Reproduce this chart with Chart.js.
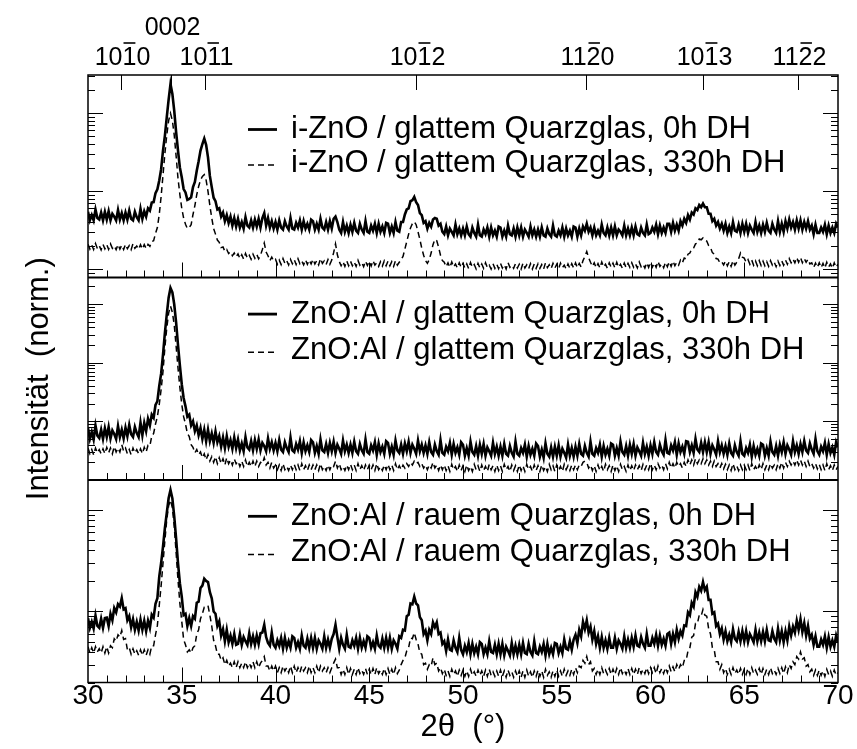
<!DOCTYPE html>
<html>
<head>
<meta charset="utf-8">
<script src="https://cdn.jsdelivr.net/npm/chart.js@4.4.1/dist/chart.umd.min.js"></script>
<style>
  html, body { margin: 0; padding: 0; background: #fff; }
  #wrap { width: 857px; height: 749px; }
</style>
</head>
<body>
<div id="wrap"><canvas id="xrd" width="857" height="749"></canvas></div>
<script>
// 2theta scan grid (deg), one row per degree
const twoTheta = [
  30,30.1,30.2,30.3,30.4,30.5,30.6,30.7,30.8,30.9, 31,31.1,31.2,31.3,31.4,31.5,31.6,31.7,31.8,31.9,
  32,32.1,32.2,32.3,32.4,32.5,32.6,32.7,32.8,32.9, 33,33.1,33.2,33.3,33.4,33.5,33.6,33.7,33.8,33.9,
  34,34.1,34.2,34.3,34.4,34.5,34.6,34.7,34.8,34.9, 35,35.1,35.2,35.3,35.4,35.5,35.6,35.7,35.8,35.9,
  36,36.1,36.2,36.3,36.4,36.5,36.6,36.7,36.8,36.9, 37,37.1,37.2,37.3,37.4,37.5,37.6,37.7,37.8,37.9,
  38,38.1,38.2,38.3,38.4,38.5,38.6,38.7,38.8,38.9, 39,39.1,39.2,39.3,39.4,39.5,39.6,39.7,39.8,39.9,
  40,40.1,40.2,40.3,40.4,40.5,40.6,40.7,40.8,40.9, 41,41.1,41.2,41.3,41.4,41.5,41.6,41.7,41.8,41.9,
  42,42.1,42.2,42.3,42.4,42.5,42.6,42.7,42.8,42.9, 43,43.1,43.2,43.3,43.4,43.5,43.6,43.7,43.8,43.9,
  44,44.1,44.2,44.3,44.4,44.5,44.6,44.7,44.8,44.9, 45,45.1,45.2,45.3,45.4,45.5,45.6,45.7,45.8,45.9,
  46,46.1,46.2,46.3,46.4,46.5,46.6,46.7,46.8,46.9, 47,47.1,47.2,47.3,47.4,47.5,47.6,47.7,47.8,47.9,
  48,48.1,48.2,48.3,48.4,48.5,48.6,48.7,48.8,48.9, 49,49.1,49.2,49.3,49.4,49.5,49.6,49.7,49.8,49.9,
  50,50.1,50.2,50.3,50.4,50.5,50.6,50.7,50.8,50.9, 51,51.1,51.2,51.3,51.4,51.5,51.6,51.7,51.8,51.9,
  52,52.1,52.2,52.3,52.4,52.5,52.6,52.7,52.8,52.9, 53,53.1,53.2,53.3,53.4,53.5,53.6,53.7,53.8,53.9,
  54,54.1,54.2,54.3,54.4,54.5,54.6,54.7,54.8,54.9, 55,55.1,55.2,55.3,55.4,55.5,55.6,55.7,55.8,55.9,
  56,56.1,56.2,56.3,56.4,56.5,56.6,56.7,56.8,56.9, 57,57.1,57.2,57.3,57.4,57.5,57.6,57.7,57.8,57.9,
  58,58.1,58.2,58.3,58.4,58.5,58.6,58.7,58.8,58.9, 59,59.1,59.2,59.3,59.4,59.5,59.6,59.7,59.8,59.9,
  60,60.1,60.2,60.3,60.4,60.5,60.6,60.7,60.8,60.9, 61,61.1,61.2,61.3,61.4,61.5,61.6,61.7,61.8,61.9,
  62,62.1,62.2,62.3,62.4,62.5,62.6,62.7,62.8,62.9, 63,63.1,63.2,63.3,63.4,63.5,63.6,63.7,63.8,63.9,
  64,64.1,64.2,64.3,64.4,64.5,64.6,64.7,64.8,64.9, 65,65.1,65.2,65.3,65.4,65.5,65.6,65.7,65.8,65.9,
  66,66.1,66.2,66.3,66.4,66.5,66.6,66.7,66.8,66.9, 67,67.1,67.2,67.3,67.4,67.5,67.6,67.7,67.8,67.9,
  68,68.1,68.2,68.3,68.4,68.5,68.6,68.7,68.8,68.9, 69,69.1,69.2,69.3,69.4,69.5,69.6,69.7,69.8,69.9,
  70
];

// i-ZnO / glattem Quarzglas
const topFresh = [
  5.4,4.2,4.9,4.2,5.8,4.5,4.3,5.3,4.2,5.4, 4.3,5.5,4.2,5.1,4.7,4.2,5.7,4.3,5.2,4.2,
  5.3,4.3,5.6,4.4,4.2,5.4,4.6,4.2,5.9,4.4, 5.5,4.7,6.0,5.6,7.1,7.2,9.4,10.5,13.6,19,
  33,51,88,148,235,176,106,57,33,20, 15,10.6,9.6,7.7,7.9,8.3,11.2,13.1,18.2,24,
  33,40,47,39,27,15.6,11.2,8.2,7.4,5.8, 6.0,4.7,5.3,4.1,4.9,3.9,4.7,3.6,4.5,3.5,
  4.4,3.4,4.0,3.3,4.6,3.6,3.4,4.2,3.4,4.3, 3.5,4.4,3.4,4.5,5.2,3.6,4.5,3.4,4.1,3.3,
  4.0,3.2,4.2,3.4,3.2,4.1,3.5,3.2,4.5,3.3, 3.2,3.9,3.4,4.2,3.2,4.1,3.3,3.8,3.2,4.3,
  4.1,3.2,3.8,3.2,4.4,3.4,3.2,4.0,3.2,4.1, 3.3,4.4,4.7,4.0,3.2,2.9,4.0,3.0,3.6,2.9,
  3.7,3.0,3.9,3.1,2.9,3.8,3.2,2.9,4.1,3.0, 2.9,3.6,3.1,3.8,2.9,3.8,3.0,3.5,2.9,3.9,
  3.8,2.9,3.5,2.9,4.0,3.1,3.0,4.0,4.0,5.0, 5.8,6.0,7.4,7.6,8.4,7.2,6.6,5.2,4.9,3.9,
  4.1,3.3,3.9,3.5,4.3,4.5,4.4,3.6,3.8,3.0, 2.8,3.5,2.7,3.3,3.0,2.7,3.7,2.8,3.3,2.7,
  3.3,2.7,3.5,2.8,2.6,3.4,2.9,2.6,3.7,2.7, 2.6,3.2,2.8,3.4,2.6,3.4,2.7,3.1,2.6,3.5,
  3.4,2.6,3.1,2.6,3.6,2.8,2.7,3.3,2.6,3.4, 2.7,3.4,2.6,3.2,2.9,2.6,3.5,2.7,3.2,2.6,
  3.2,2.6,3.4,2.7,2.6,3.3,2.8,2.6,3.6,2.7, 2.6,3.1,2.7,3.4,2.6,3.3,2.7,3.1,2.6,3.5,
  3.4,2.6,3.3,2.7,3.5,3.1,3.8,3.0,3.4,2.7, 3.4,2.7,3.1,2.7,3.7,2.9,2.7,3.4,2.7,3.4,
  2.7,3.5,2.7,3.2,3.0,2.7,3.6,2.7,3.3,2.7, 3.4,2.7,3.5,2.8,2.7,3.4,2.9,2.7,3.7,2.8,
  2.9,3.4,3.0,3.7,2.8,3.6,2.9,3.4,2.9,3.8, 3.8,3.0,3.9,3.1,3.7,3.1,4.1,3.6,4.4,3.9,
  4.9,4.3,5.3,5.0,6.0,5.7,6.6,6.2,6.9,6.2, 6.2,5.1,5.1,4.1,4.4,3.6,4.0,3.3,3.8,3.1,
  3.8,2.9,3.5,2.9,4.0,3.1,3.0,3.7,2.9,3.8, 3.0,3.8,2.9,3.6,3.2,2.9,4.0,3.0,3.6,2.9,
  3.7,3.0,3.9,3.1,2.9,3.8,3.2,2.9,4.1,3.0, 3.8,3.0,4.1,3.3,4.3,3.4,4.0,3.2,4.2,3.3,
  4.2,3.2,4.0,3.3,4.1,3.2,3.6,2.8,3.7,2.9, 2.9,3.4,3.0,3.7,2.8,3.6,2.9,3.4,2.9,3.8,
  3.4
];
const topAged = [
  2.08,1.8,2.03,1.78,2.12,1.83,1.99,1.76,2.07,1.81, 2.05,1.79,2.1,1.84,1.98,1.77,2.06,1.8,2.02,1.78,
  2.07,1.82,2.0,1.77,2.11,1.84,1.97,1.79,2.05,1.8, 2.05,1.83,2.07,1.95,2.25,2.3,2.85,3.4,5.0,8.5,
  16,30,52,80,99,80,52,28,14.5,9.0, 6.0,4.5,3.75,3.3,3.4,3.7,5.0,6.5,9.0,11.4,
  13.8,15.4,16.2,13.8,9.9,6.5,4.5,3.3,2.8,2.35, 2.2,1.88,1.92,1.68,1.78,1.58,1.66,1.48,1.6,1.43,
  1.56,1.36,1.52,1.34,1.58,1.38,1.5,1.33,1.55,1.37, 1.54,1.35,1.5,1.78,2.15,1.65,1.48,1.28,1.42,1.27,
  1.33,1.15,1.3,1.14,1.36,1.18,1.28,1.13,1.33,1.17, 1.32,1.14,1.35,1.17,1.27,1.13,1.31,1.15,1.3,1.16,
  1.33,1.16,1.28,1.13,1.36,1.18,1.27,1.14,1.32,1.15, 1.3,1.62,2.1,1.52,1.25,1.1,1.24,1.08,1.27,1.1,
  1.26,1.1,1.23,1.08,1.29,1.12,1.21,1.07,1.26,1.11, 1.25,1.09,1.28,1.12,1.2,1.08,1.24,1.09,1.27,1.1,
  1.26,1.1,1.24,1.08,1.28,1.12,1.22,1.32,1.45,1.8, 2.24,2.8,3.35,3.8,4.05,3.7,3.0,2.4,1.85,1.5,
  1.28,1.18,1.32,1.6,2.05,2.4,2.3,1.9,1.5,1.28, 1.22,1.07,1.2,1.05,1.23,1.06,1.16,1.03,1.2,1.05,
  1.18,1.03,1.16,1.01,1.21,1.05,1.14,1.0,1.18,1.03, 1.16,1.02,1.2,1.04,1.12,1.0,1.17,1.02,1.15,1.01,
  1.18,1.03,1.13,1.0,1.21,1.05,1.12,1.02,1.17,1.03, 1.15,1.0,1.19,1.03,1.13,1.01,1.17,1.0,1.16,1.02,
  1.17,1.02,1.14,1.0,1.2,1.04,1.13,1.01,1.18,1.03, 1.15,1.01,1.19,1.04,1.12,1.0,1.16,1.02,1.17,1.03,
  1.2,1.04,1.18,1.06,1.28,1.45,1.67,1.4,1.22,1.08, 1.2,1.04,1.17,1.03,1.23,1.06,1.15,1.02,1.2,1.05,
  1.19,1.03,1.22,1.05,1.15,1.02,1.19,1.04,1.18,1.05, 1.2,1.05,1.16,1.03,1.23,1.07,1.15,1.03,1.2,1.05,
  1.22,1.06,1.19,1.05,1.25,1.08,1.17,1.04,1.22,1.07, 1.24,1.08,1.26,1.1,1.22,1.12,1.3,1.2,1.38,1.35,
  1.55,1.6,1.8,1.86,2.1,2.15,2.42,2.37,2.5,2.33, 2.28,2.0,1.88,1.62,1.55,1.36,1.34,1.2,1.24,1.13,
  1.26,1.1,1.24,1.08,1.28,1.12,1.22,1.35,1.6,1.42, 1.38,1.22,1.32,1.15,1.3,1.12,1.27,1.1,1.28,1.11,
  1.26,1.1,1.24,1.08,1.28,1.12,1.22,1.07,1.26,1.11, 1.27,1.12,1.3,1.15,1.36,1.2,1.34,1.2,1.4,1.22,
  1.4,1.2,1.36,1.22,1.33,1.16,1.2,1.04,1.19,1.05, 1.2,1.04,1.18,1.03,1.22,1.06,1.16,1.02,1.2,1.05,
  1.15
];

// ZnO:Al / glattem Quarzglas
const midFresh = [
  0.77,0.5,0.66,0.49,0.85,0.57,0.52,0.72,0.5,0.76, 0.54,0.8,0.51,0.7,0.61,0.5,0.83,0.54,0.72,0.51,
  0.78,0.56,0.87,0.6,0.54,0.8,0.63,0.54,0.95,0.58, 0.94,0.68,1.1,0.85,1.3,1.15,1.9,2.2,4.0,6.5,
  13.7,32,66,128,188,158,98,48,20,9.0, 4.3,2.5,1.8,1.2,1.3,0.85,1.0,0.68,0.85,0.58,
  0.77,0.5,0.72,0.46,0.72,0.46,0.62,0.43,0.67,0.44, 0.56,0.37,0.53,0.35,0.56,0.37,0.48,0.34,0.53,0.35,
  0.49,0.32,0.42,0.31,0.54,0.36,0.33,0.46,0.32,0.48, 0.34,0.49,0.32,0.43,0.38,0.31,0.51,0.34,0.44,0.32,
  0.43,0.31,0.48,0.33,0.3,0.44,0.35,0.3,0.53,0.32, 0.3,0.41,0.33,0.46,0.29,0.44,0.31,0.39,0.3,0.48,
  0.44,0.29,0.38,0.28,0.49,0.32,0.3,0.41,0.29,0.43, 0.31,0.45,0.29,0.4,0.34,0.28,0.47,0.31,0.4,0.29,
  0.4,0.29,0.45,0.31,0.28,0.41,0.32,0.28,0.49,0.3, 0.28,0.39,0.32,0.44,0.27,0.42,0.3,0.37,0.28,0.46,
  0.43,0.28,0.37,0.27,0.47,0.32,0.29,0.4,0.28,0.42, 0.31,0.45,0.29,0.4,0.34,0.28,0.47,0.31,0.4,0.29,
  0.39,0.28,0.44,0.3,0.27,0.4,0.31,0.27,0.48,0.29, 0.27,0.37,0.31,0.43,0.27,0.41,0.29,0.36,0.27,0.44,
  0.4,0.26,0.35,0.26,0.45,0.3,0.27,0.38,0.26,0.4, 0.28,0.41,0.26,0.36,0.31,0.26,0.43,0.28,0.37,0.26,
  0.37,0.26,0.41,0.28,0.26,0.38,0.29,0.25,0.45,0.28, 0.26,0.35,0.29,0.4,0.25,0.38,0.27,0.34,0.26,0.42,
  0.38,0.25,0.33,0.24,0.42,0.28,0.25,0.36,0.25,0.37, 0.26,0.39,0.25,0.34,0.29,0.24,0.4,0.26,0.35,0.25,
  0.37,0.26,0.41,0.28,0.26,0.38,0.29,0.25,0.45,0.28, 0.26,0.35,0.29,0.4,0.25,0.38,0.27,0.34,0.26,0.42,
  0.4,0.26,0.35,0.26,0.45,0.3,0.27,0.38,0.26,0.4, 0.28,0.41,0.26,0.36,0.31,0.26,0.43,0.28,0.37,0.26,
  0.39,0.28,0.44,0.3,0.27,0.4,0.31,0.27,0.48,0.29, 0.28,0.39,0.32,0.44,0.27,0.42,0.3,0.37,0.28,0.46,
  0.45,0.3,0.39,0.29,0.5,0.33,0.3,0.43,0.3,0.44, 0.3,0.44,0.28,0.39,0.33,0.27,0.46,0.3,0.39,0.28,
  0.38,0.27,0.42,0.29,0.26,0.39,0.3,0.26,0.46,0.28, 0.26,0.35,0.29,0.4,0.25,0.38,0.27,0.34,0.26,0.42,
  0.4,0.26,0.35,0.26,0.45,0.3,0.27,0.38,0.26,0.4, 0.3,0.44,0.28,0.39,0.33,0.27,0.46,0.3,0.39,0.28,
  0.41,0.3,0.46,0.32,0.29,0.42,0.33,0.28,0.5,0.31, 0.27,0.37,0.31,0.43,0.27,0.41,0.29,0.36,0.27,0.44,
  0.36
];
const midAged = [
  0.35,0.28,0.33,0.27,0.35,0.29,0.33,0.28,0.34,0.28, 0.36,0.29,0.35,0.28,0.37,0.3,0.35,0.3,0.4,0.31,
  0.35,0.28,0.33,0.27,0.35,0.29,0.33,0.28,0.34,0.28, 0.36,0.3,0.39,0.38,0.56,0.62,0.9,1.2,1.95,3.5,
  7.1,18,39,70,92,72,44,19,8.1,3.8, 1.95,1.2,0.9,0.62,0.55,0.4,0.36,0.29,0.33,0.27,
  0.3,0.24,0.28,0.22,0.27,0.21,0.25,0.2,0.25,0.19, 0.24,0.19,0.23,0.18,0.24,0.19,0.22,0.18,0.23,0.19,
  0.21,0.17,0.21,0.17,0.22,0.17,0.2,0.17,0.21,0.17, 0.21,0.17,0.2,0.19,0.24,0.18,0.2,0.16,0.2,0.16,
  0.18,0.15,0.18,0.145,0.19,0.15,0.17,0.145,0.18,0.15, 0.185,0.15,0.18,0.145,0.19,0.15,0.175,0.145,0.18,0.15,
  0.18,0.15,0.18,0.145,0.19,0.15,0.17,0.145,0.18,0.15, 0.18,0.17,0.21,0.16,0.19,0.15,0.17,0.145,0.18,0.15,
  0.185,0.15,0.18,0.145,0.19,0.15,0.175,0.145,0.18,0.15, 0.18,0.15,0.18,0.145,0.19,0.15,0.17,0.145,0.18,0.15,
  0.185,0.15,0.18,0.145,0.19,0.15,0.175,0.15,0.18,0.16, 0.19,0.17,0.2,0.18,0.21,0.19,0.2,0.17,0.19,0.16,
  0.18,0.15,0.18,0.16,0.2,0.16,0.18,0.145,0.18,0.15, 0.18,0.145,0.175,0.14,0.185,0.15,0.17,0.14,0.18,0.145,
  0.175,0.14,0.18,0.145,0.17,0.14,0.185,0.15,0.175,0.14, 0.18,0.145,0.17,0.14,0.185,0.15,0.175,0.14,0.18,0.145,
  0.175,0.14,0.185,0.15,0.17,0.14,0.18,0.145,0.175,0.14, 0.18,0.145,0.175,0.14,0.185,0.15,0.17,0.14,0.18,0.145,
  0.175,0.14,0.18,0.145,0.17,0.14,0.185,0.15,0.175,0.14, 0.18,0.145,0.17,0.14,0.185,0.15,0.175,0.145,0.18,0.15,
  0.18,0.15,0.18,0.17,0.2,0.21,0.2,0.16,0.18,0.145, 0.175,0.14,0.18,0.145,0.17,0.14,0.185,0.15,0.175,0.14,
  0.18,0.145,0.175,0.14,0.185,0.15,0.17,0.14,0.18,0.145, 0.175,0.145,0.18,0.15,0.175,0.145,0.185,0.15,0.18,0.15,
  0.19,0.15,0.18,0.15,0.19,0.16,0.18,0.15,0.19,0.155, 0.2,0.16,0.19,0.16,0.2,0.17,0.19,0.16,0.2,0.17,
  0.22,0.18,0.22,0.18,0.23,0.19,0.22,0.19,0.23,0.19, 0.22,0.18,0.21,0.17,0.21,0.17,0.19,0.16,0.19,0.155,
  0.185,0.15,0.18,0.145,0.19,0.15,0.175,0.145,0.18,0.15, 0.18,0.15,0.18,0.145,0.19,0.15,0.17,0.145,0.18,0.15,
  0.19,0.15,0.18,0.15,0.19,0.16,0.18,0.15,0.19,0.16, 0.2,0.16,0.2,0.17,0.21,0.18,0.21,0.18,0.22,0.18,
  0.22,0.18,0.21,0.17,0.21,0.17,0.19,0.16,0.19,0.155, 0.185,0.15,0.18,0.145,0.19,0.15,0.175,0.145,0.18,0.15,
  0.17
];

// ZnO:Al / rauem Quarzglas
const lowFresh = [
  0.86,0.69,0.79,0.68,0.91,0.72,0.69,0.85,0.69,0.86, 0.87,0.72,0.95,0.82,1.08,0.98,1.18,1.12,1.35,1.05,
  1.08,0.82,0.9,0.7,0.84,0.66,0.79,0.65,0.83,0.66, 0.81,0.64,0.81,0.69,0.93,0.87,1.19,1.35,2.2,3.0,
  4.36,6.6,9.3,13,15.7,13,8.6,5.2,2.99,1.9, 1.4,0.92,0.95,0.72,0.86,0.72,0.9,0.85,1.22,1.25,
  1.7,1.8,2.1,2.0,1.95,1.55,1.35,1.0,0.95,0.72, 0.8,0.58,0.67,0.51,0.66,0.5,0.58,0.48,0.6,0.47,
  0.48,0.6,0.47,0.56,0.51,0.47,0.61,0.48,0.57,0.47, 0.58,0.48,0.61,0.62,0.74,0.56,0.49,0.46,0.62,0.47,
  0.44,0.52,0.46,0.55,0.43,0.55,0.44,0.51,0.44,0.57, 0.55,0.44,0.5,0.43,0.58,0.46,0.44,0.54,0.44,0.55,
  0.44,0.55,0.43,0.52,0.48,0.43,0.57,0.44,0.53,0.44, 0.54,0.6,0.74,0.56,0.43,0.55,0.47,0.43,0.59,0.45,
  0.44,0.52,0.46,0.55,0.43,0.55,0.44,0.51,0.44,0.57, 0.55,0.44,0.5,0.43,0.58,0.46,0.44,0.54,0.44,0.55,
  0.44,0.55,0.43,0.52,0.48,0.43,0.57,0.55,0.66,0.65, 0.9,0.93,1.2,1.18,1.4,1.2,1.15,0.88,0.82,0.6,
  0.65,0.52,0.66,0.6,0.78,0.7,0.78,0.6,0.62,0.48, 0.51,0.41,0.53,0.42,0.41,0.52,0.44,0.4,0.55,0.42,
  0.38,0.46,0.4,0.49,0.38,0.48,0.39,0.45,0.38,0.5, 0.48,0.38,0.44,0.38,0.51,0.4,0.39,0.47,0.38,0.48,
  0.38,0.48,0.37,0.45,0.41,0.37,0.49,0.38,0.46,0.38, 0.47,0.38,0.49,0.39,0.38,0.48,0.4,0.37,0.51,0.39,
  0.38,0.45,0.4,0.48,0.37,0.48,0.38,0.44,0.38,0.49, 0.48,0.39,0.45,0.39,0.53,0.43,0.42,0.51,0.42,0.53,
  0.59,0.49,0.66,0.57,0.79,0.67,0.82,0.62,0.71,0.53, 0.64,0.48,0.57,0.44,0.56,0.44,0.52,0.43,0.55,0.44,
  0.44,0.55,0.43,0.52,0.48,0.43,0.57,0.44,0.53,0.44, 0.55,0.45,0.58,0.46,0.45,0.56,0.48,0.44,0.6,0.46,
  0.46,0.55,0.48,0.59,0.46,0.58,0.47,0.54,0.46,0.6, 0.62,0.48,0.6,0.5,0.66,0.54,0.64,0.58,0.73,0.72,
  0.98,0.92,1.22,1.12,1.55,1.4,1.75,1.6,1.95,1.62, 1.75,1.3,1.3,0.95,0.98,0.72,0.76,0.6,0.68,0.53,
  0.64,0.51,0.59,0.5,0.67,0.54,0.51,0.63,0.51,0.64, 0.51,0.64,0.5,0.6,0.55,0.5,0.66,0.51,0.62,0.51,
  0.63,0.51,0.66,0.52,0.51,0.64,0.54,0.5,0.68,0.52, 0.64,0.5,0.64,0.52,0.71,0.58,0.71,0.62,0.81,0.66,
  0.84,0.63,0.77,0.58,0.72,0.54,0.59,0.47,0.57,0.45, 0.45,0.53,0.47,0.57,0.44,0.56,0.45,0.52,0.45,0.58,
  0.5
];
const lowAged = [
  0.45,0.39,0.44,0.39,0.45,0.4,0.43,0.39,0.45,0.39, 0.45,0.39,0.46,0.44,0.54,0.51,0.59,0.56,0.65,0.53,
  0.54,0.42,0.44,0.38,0.43,0.38,0.41,0.37,0.42,0.37, 0.42,0.37,0.42,0.38,0.46,0.46,0.59,0.73,1.15,1.8,
  2.99,5.0,8.0,11,12.5,10.5,6.85,3.8,2.05,1.2, 0.8,0.53,0.47,0.4,0.42,0.39,0.44,0.46,0.6,0.66,
  0.85,0.95,1.1,1.1,1.14,0.92,0.72,0.52,0.46,0.38, 0.38,0.33,0.35,0.3,0.33,0.29,0.31,0.28,0.32,0.28,
  0.32,0.28,0.31,0.28,0.32,0.28,0.31,0.28,0.32,0.28, 0.32,0.28,0.31,0.33,0.36,0.29,0.29,0.26,0.29,0.26,
  0.29,0.25,0.28,0.25,0.29,0.26,0.28,0.25,0.29,0.25, 0.29,0.25,0.28,0.25,0.29,0.26,0.28,0.25,0.29,0.25,
  0.28,0.25,0.29,0.25,0.29,0.26,0.28,0.25,0.28,0.25, 0.28,0.31,0.34,0.28,0.28,0.24,0.27,0.24,0.28,0.24,
  0.275,0.24,0.27,0.24,0.28,0.245,0.265,0.24,0.275,0.24, 0.27,0.24,0.275,0.24,0.28,0.245,0.265,0.24,0.275,0.24,
  0.275,0.24,0.27,0.24,0.28,0.245,0.265,0.3,0.33,0.35, 0.41,0.44,0.55,0.54,0.62,0.53,0.48,0.39,0.38,0.3,
  0.31,0.27,0.3,0.29,0.35,0.3,0.31,0.26,0.28,0.245, 0.27,0.235,0.26,0.23,0.27,0.24,0.26,0.23,0.265,0.235,
  0.265,0.23,0.26,0.23,0.27,0.235,0.255,0.23,0.265,0.235, 0.26,0.23,0.265,0.23,0.27,0.235,0.255,0.23,0.26,0.23,
  0.265,0.23,0.26,0.225,0.265,0.235,0.255,0.225,0.26,0.23, 0.26,0.225,0.26,0.225,0.265,0.23,0.255,0.225,0.26,0.23,
  0.265,0.23,0.26,0.225,0.27,0.235,0.255,0.225,0.26,0.23, 0.265,0.23,0.26,0.23,0.27,0.235,0.26,0.235,0.27,0.24,
  0.28,0.25,0.29,0.28,0.33,0.31,0.36,0.3,0.32,0.26, 0.275,0.24,0.27,0.24,0.28,0.245,0.265,0.24,0.275,0.24,
  0.27,0.24,0.275,0.24,0.28,0.245,0.265,0.24,0.275,0.24, 0.275,0.24,0.27,0.24,0.28,0.245,0.27,0.245,0.28,0.245,
  0.28,0.25,0.28,0.245,0.29,0.25,0.275,0.245,0.28,0.25, 0.29,0.255,0.285,0.255,0.3,0.27,0.3,0.28,0.33,0.33,
  0.41,0.44,0.56,0.58,0.76,0.76,0.92,0.9,1.05,0.92, 0.9,0.68,0.6,0.44,0.42,0.32,0.32,0.27,0.3,0.25,
  0.275,0.24,0.27,0.24,0.28,0.245,0.265,0.24,0.275,0.24, 0.27,0.24,0.275,0.24,0.28,0.245,0.265,0.24,0.275,0.24,
  0.275,0.24,0.27,0.24,0.28,0.245,0.265,0.24,0.275,0.245, 0.28,0.245,0.285,0.25,0.3,0.275,0.32,0.3,0.36,0.34,
  0.4,0.34,0.35,0.29,0.3,0.255,0.27,0.235,0.265,0.235, 0.265,0.235,0.26,0.23,0.27,0.24,0.26,0.23,0.265,0.235,
  0.25
];

const legendText = [
  ["i-ZnO / glattem Quarzglas, 0h DH", "i-ZnO / glattem Quarzglas, 330h DH"],
  ["ZnO:Al / glattem Quarzglas, 0h DH", "ZnO:Al / glattem Quarzglas, 330h DH"],
  ["ZnO:Al / rauem Quarzglas, 0h DH", "ZnO:Al / rauem Quarzglas, 330h DH"]
];

// ZnO reflections marked on the top axis
const millerPos = [31.77, 34.42, 36.25, 47.5, 56.56, 62.78, 67.88];
const millerText = ["1010", "0002", "1011", "1012", "1120", "1013", "1122"];
const millerBar = [2, -1, 2, 2, 2, 2, 2]; // index of the barred digit

const FONT = '"Liberation Sans", Arial, Helvetica, sans-serif';
Chart.defaults.font.family = FONT;
Chart.defaults.color = "#000";

const pts = ys => twoTheta.map((x, i) => ({x: x, y: ys[i]}));

function series(label, ys, axis, dashed) {
    return {
        label: label,
        data: pts(ys),
        yAxisID: axis,
        borderColor: "#000",
        borderWidth: dashed ? 1.5 : 2.6,
        borderDash: dashed ? [6, 4] : [],
        pointRadius: 0,
        tension: 0,
        fill: false
    };
}

function hline(ctx, x1, y1, x2, y2) {
    ctx.beginPath();
    ctx.moveTo(x1, y1);
    ctx.lineTo(x2, y2);
    ctx.stroke();
}

const framePlugin = {
    id: "xrdFrame",
    afterDatasetsDraw(chart) {
        const ctx = chart.ctx;
        const a = chart.chartArea;
        const x = chart.scales.x;
        const panels = [chart.scales.y1, chart.scales.y2, chart.scales.y3];
        ctx.save();
        ctx.strokeStyle = "#000";
        ctx.lineWidth = 1;
        ctx.setLineDash([]);

        panels.forEach(s => {
            // log ticks, left and right
            const e0 = Math.floor(Math.log10(s.min));
            const e1 = Math.ceil(Math.log10(s.max));
            for (let e = e0; e <= e1; e++) {
                for (let k = 1; k <= 9; k++) {
                    const v = k * Math.pow(10, e);
                    if (v < s.min || v > s.max) continue;
                    const py = Math.round(s.getPixelForValue(v)) + 0.5;
                    const len = k === 1 ? 15 : 7;
                    hline(ctx, a.left, py, a.left + len, py);
                    hline(ctx, a.right - len, py, a.right, py);
                }
            }
            // 2theta ticks at the panel bottom
            for (let d = 31; d < 70; d++) {
                const px = Math.round(x.getPixelForValue(d)) + 0.5;
                const len = d % 5 === 0 ? 15 : 7;
                hline(ctx, px, s.bottom, px, s.bottom - len);
            }
        });

        // reflection ticks + labels on top
        ctx.font = "25px " + FONT;
        ctx.fillStyle = "#000";
        ctx.textAlign = "center";
        ctx.textBaseline = "middle";
        millerPos.forEach((p, i) => {
            const px = Math.round(x.getPixelForValue(p)) + 0.5;
            hline(ctx, px, a.top, px, a.top + 15);
            const ty = millerText[i] === "0002" ? a.top - 47 : a.top - 17;
            const tx = px + 1;
            ctx.fillText(millerText[i], tx, ty);
            if (millerBar[i] >= 0) {
                const w = ctx.measureText(millerText[i]).width;
                const cw = w / millerText[i].length;
                const bx = tx - w / 2 + cw * millerBar[i];
                ctx.lineWidth = 1.6;
                hline(ctx, bx + 1, ty - 15, bx + cw - 1, ty - 15);
                ctx.lineWidth = 1;
            }
        });

        // frame and panel dividers
        ctx.lineWidth = 1.5;
        ctx.strokeRect(a.left, a.top, a.right - a.left, a.bottom - a.top);
        ctx.lineWidth = 2.2;
        hline(ctx, a.left, panels[1].top, a.right, panels[1].top);
        hline(ctx, a.left, panels[2].top, a.right, panels[2].top);

        // legends
        const rowOff = [[54.5, 88], [36.6, 72.8], [36.3, 72.5]];
        ctx.font = "31px " + FONT;
        ctx.textAlign = "left";
        panels.forEach((s, i) => {
            const r1 = s.top + rowOff[i][0];
            const r2 = s.top + rowOff[i][1];
            ctx.lineWidth = 2.8;
            ctx.setLineDash([]);
            hline(ctx, a.left + 160, r1, a.left + 189, r1);
            ctx.lineWidth = 1.6;
            ctx.setLineDash([6, 4]);
            hline(ctx, a.left + 160, r2 + 2, a.left + 189, r2 + 2);
            ctx.setLineDash([]);
            ctx.fillText(legendText[i][0], a.left + 203, r1);
            ctx.fillText(legendText[i][1], a.left + 203, r2);
        });
        ctx.restore();
    }
};

const logAxis = (min, max, weight) => ({
    type: "logarithmic",
    position: "left",
    stack: "xrd",
    stackWeight: 1,
    weight: weight,
    min: min,
    max: max,
    ticks: {display: false},
    grid: {display: false},
    border: {display: false},
    afterFit(s) { s.width = 88; }
});

const y2 = logAxis(0.1, 282.8, 2);
y2.title = {
    display: true,
    text: "Intensität  (norm.)",
    font: {size: 31},
    color: "#000",
    padding: {top: 21, bottom: 0}
};

new Chart(document.getElementById("xrd"), {
    type: "line",
    data: {
        datasets: [
            series("i-ZnO 0h", topFresh, "y1", false),
            series("i-ZnO 330h", topAged, "y1", true),
            series("ZnO:Al glatt 0h", midFresh, "y2", false),
            series("ZnO:Al glatt 330h", midAged, "y2", true),
            series("ZnO:Al rau 0h", lowFresh, "y3", false),
            series("ZnO:Al rau 330h", lowAged, "y3", true)
        ]
    },
    options: {
        responsive: false,
        animation: false,
        devicePixelRatio: 1,
        events: [],
        parsing: false,
        layout: {padding: {top: 75, right: 19, left: 0, bottom: 0}},
        plugins: {legend: {display: false}, tooltip: {enabled: false}},
        scales: {
            x: {
                type: "linear",
                position: "bottom",
                min: 30,
                max: 70,
                ticks: {stepSize: 5, font: {size: 28}, color: "#000", padding: -3},
                grid: {display: false, drawTicks: false},
                border: {display: false},
                title: {display: true, text: "2θ  (°)", font: {size: 31}, color: "#000", padding: {top: 0, bottom: 3}},
                afterFit(s) { s.height = 66.5; }
            },
            y1: logAxis(0.778, 306.9, 3),
            y2: y2,
            y3: logAxis(0.2, 19.7, 1)
        }
    },
    plugins: [framePlugin]
});
</script>
</body>
</html>
